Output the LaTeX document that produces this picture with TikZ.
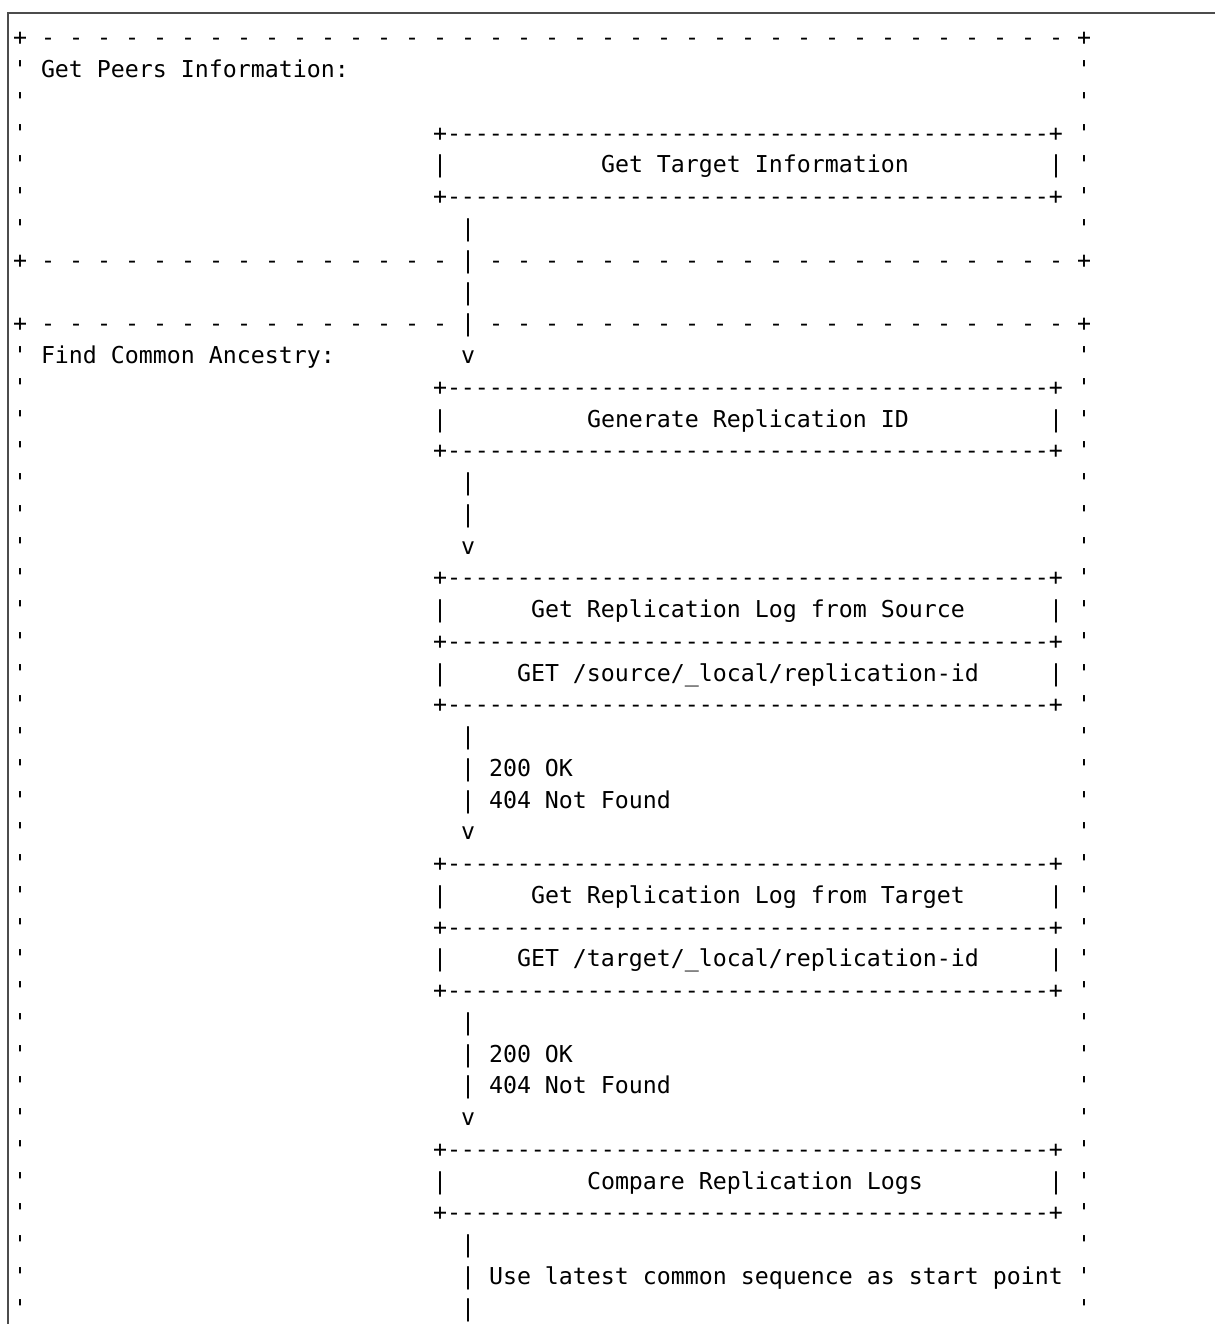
\documentclass[tikz,border=0pt]{standalone}
\usepackage{fontspec}
\setmonofont{DejaVu Sans Mono}
\newcommand\boxrule{+-------------------------------------------+}

\begin{document}
\begin{tikzpicture}[x=1pt, y=-1pt,
   ascii/.style={anchor=base west, inner sep=0pt, outer sep=0pt,
                 font=\fontsize{23.25}{31.75}\selectfont\ttfamily},
   frame/.style={draw=black!70, line width=2pt}]

\useasboundingbox (0,0) rectangle (1215,1324);
\draw[frame] (7.5,1324) |- (1215,13.5);

\begin{scope}[shift={(20,46)}, x=14pt, y=-31.75pt]
% dashed group borders
\foreach \r/\g in {0/peerstop, 7/peersbot, 9/ancestop} {
  \node[ascii] (\g-l) at (-0.5,\r) {+};
  \node[ascii] (\g-r) at (75.5,\r) {+};
  \foreach \c in {2,4,...,30,34,36,...,74}
    \node[ascii] (\g-\c) at (\c-0.5,\r) {-};
}
\node[ascii] (peerstop-32) at (31.5,0) {-};

% group sides
\foreach \r in {1,...,6} {
  \node[ascii] (peers-w\r) at (-0.5,\r) {'};
  \node[ascii] (peers-e\r) at (75.5,\r) {'};
}
\foreach \r in {10,...,40} {
  \node[ascii] (ances-w\r) at (-0.5,\r) {'};
  \node[ascii] (ances-e\r) at (75.5,\r) {'};
}
\node[ascii] (peers) at (1.5,1) {Get Peers Information:};
\node[ascii] (ancestry) at (1.5,10) {Find Common Ancestry:};

% boxes
\foreach \r in {3,5,11,13,17,19,21,26,28,30,35,37}
  \node[ascii] (rule\r) at (29.5,\r) {\boxrule};
\foreach \r in {4,12,18,20,27,29,36} {
  \node[ascii] (side-w\r) at (29.5,\r) {|};
  \node[ascii] (side-e\r) at (73.5,\r) {|};
}
\node[ascii] (target) at (41.5,4) {Get Target Information};
\node[ascii] (genid) at (40.5,12) {Generate Replication ID};
\node[ascii] (srclog) at (36.5,18) {Get Replication Log from Source};
\node[ascii] (srcget) at (35.5,20) {GET /source/\_local/replication-id};
\node[ascii] (tgtlog) at (36.5,27) {Get Replication Log from Target};
\node[ascii] (tgtget) at (35.5,29) {GET /target/\_local/replication-id};
\node[ascii] (compare) at (40.5,36) {Compare Replication Logs};

% flow
\foreach \r in {6,7,8,9,14,15,22,23,24,31,32,33,38,39,40}
  \node[ascii] (bar\r) at (31.5,\r) {|};
\foreach \r in {10,16,25,34}
  \node[ascii] (head\r) at (31.5,\r) {v};
\node[ascii] (srcok) at (33.5,23) {200 OK};
\node[ascii] (srcnf) at (33.5,24) {404 Not Found};
\node[ascii] (tgtok) at (33.5,32) {200 OK};
\node[ascii] (tgtnf) at (33.5,33) {404 Not Found};
\node[ascii] (start) at (33.5,39) {Use latest common sequence as start point};
\end{scope}

\end{tikzpicture}
\end{document}
